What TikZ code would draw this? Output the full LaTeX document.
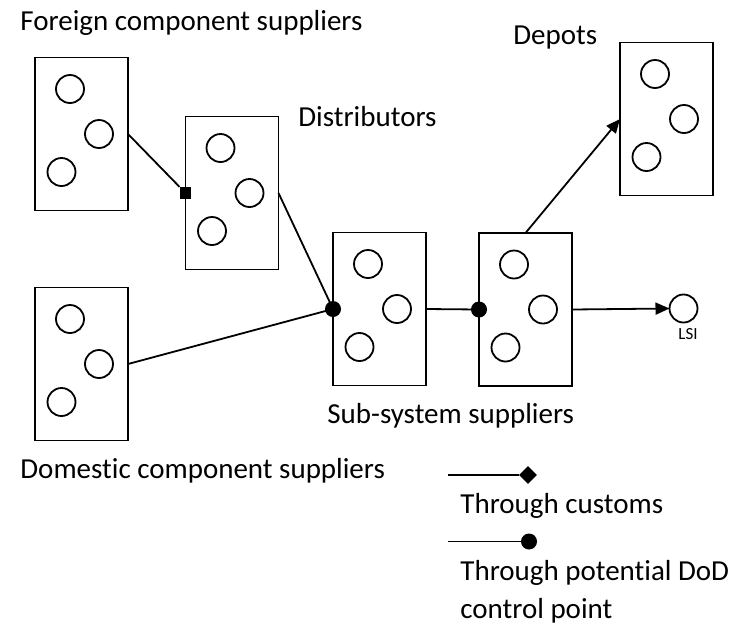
\documentclass[tikz,border=0pt]{standalone}
\usepackage{fontspec}
\setmainfont[Ligatures={NoCommon,NoRare}]{Carlito}
\usetikzlibrary{calc,arrows.meta,shapes.geometric}

\tikzset{
  stage/.style={draw, line width=0.9pt, rectangle, minimum width=46.5pt,
    minimum height=76.5pt, inner sep=0pt, outer sep=0pt},
  unit/.style={draw, line width=0.9pt, circle, minimum size=14pt,
    inner sep=0pt, outer sep=0pt},
  junction/.style={fill=black, circle, minimum size=8pt, inner sep=0pt},
  customs/.style={fill=black, rectangle, minimum size=5.7pt, inner sep=0pt},
  customsmark/.style={fill=black, diamond, minimum size=9pt, inner sep=0pt},
  flow/.style={line width=0.9pt},
  flowarrow/.style={line width=0.9pt, -{Triangle[length=7pt,width=6pt]}},
  caption/.style={anchor=base west, inner sep=0pt, font=\fontsize{14.5pt}{17pt}\selectfont},
}

% three firms drawn inside a stage box
\newcommand\firms[1]{%
  \node[unit] (#1-a) at ($(#1)+(-11.5,-45)$) {};
  \node[unit] (#1-b) at ($(#1)+(17.5,0)$) {};
  \node[unit] (#1-c) at ($(#1)+(-20,38)$) {};}

\begin{document}
\begin{tikzpicture}[x=0.5pt, y=-0.5pt]
\useasboundingbox (0,0) rectangle (737,627);

% stage boxes
\node[stage] (b1) at (81.5,134) {};
\node[stage] (b2) at (232,193) {};
\node[stage] (b3) at (81.5,364) {};
\node[stage] (b4) at (379.5,309) {};
\node[stage] (b5) at (525.5,309.5) {};
\node[stage] (b6) at (666.5,119) {};
\firms{b1}\firms{b2}\firms{b3}\firms{b4}\firms{b5}\firms{b6}

% final integrator
\node[unit] (lsi) at (683.5,308.5) {};
\node[anchor=base, inner sep=0pt, font=\fontsize{8.5pt}{10pt}\selectfont] (lsilabel) at (688,339) {LSI};

% control points
\node[customs] (sq) at (b2.west) {};
\node[junction] (j1) at (b4.west) {};
\node[junction] (j2) at (b5.west) {};

% flows
\draw[flow] (b1.east) -- (sq);
\draw[flow] (b2.east) -- (j1.center);
\draw[flow] (b3.east) -- (j1.center);
\draw[flow] (b4.east) -- (j2.center);
\draw[flowarrow] (b5.north) -- (b6.west);
\draw[flowarrow] (b5.east) -- (lsi.west);

% stage captions
\node[caption] (tforeign) at (20,30) {Foreign component suppliers};
\node[caption] (tdist) at (298,126) {Distributors};
\node[caption] (tdepots) at (513,44) {Depots};
\node[caption] (tsub) at (327,423) {Sub-system suppliers};
\node[caption] (tdom) at (20,478) {Domestic component suppliers};

% legend
\coordinate (lg1) at (448,475);
\node[customsmark] (lgd) at (528,475) {};
\draw[flow] (lg1) -- (lgd);
\node[caption] (tcust) at (460,513) {Through customs};
\coordinate (lg2) at (448,541.5);
\node[junction] (lgc) at (529,541.5) {};
\draw[flow] (lg2) -- (lgc.center);
\node[caption] (tdod1) at (460,580) {Through potential DoD};
\node[caption] (tdod2) at (460,618) {control point};
\end{tikzpicture}
\end{document}
